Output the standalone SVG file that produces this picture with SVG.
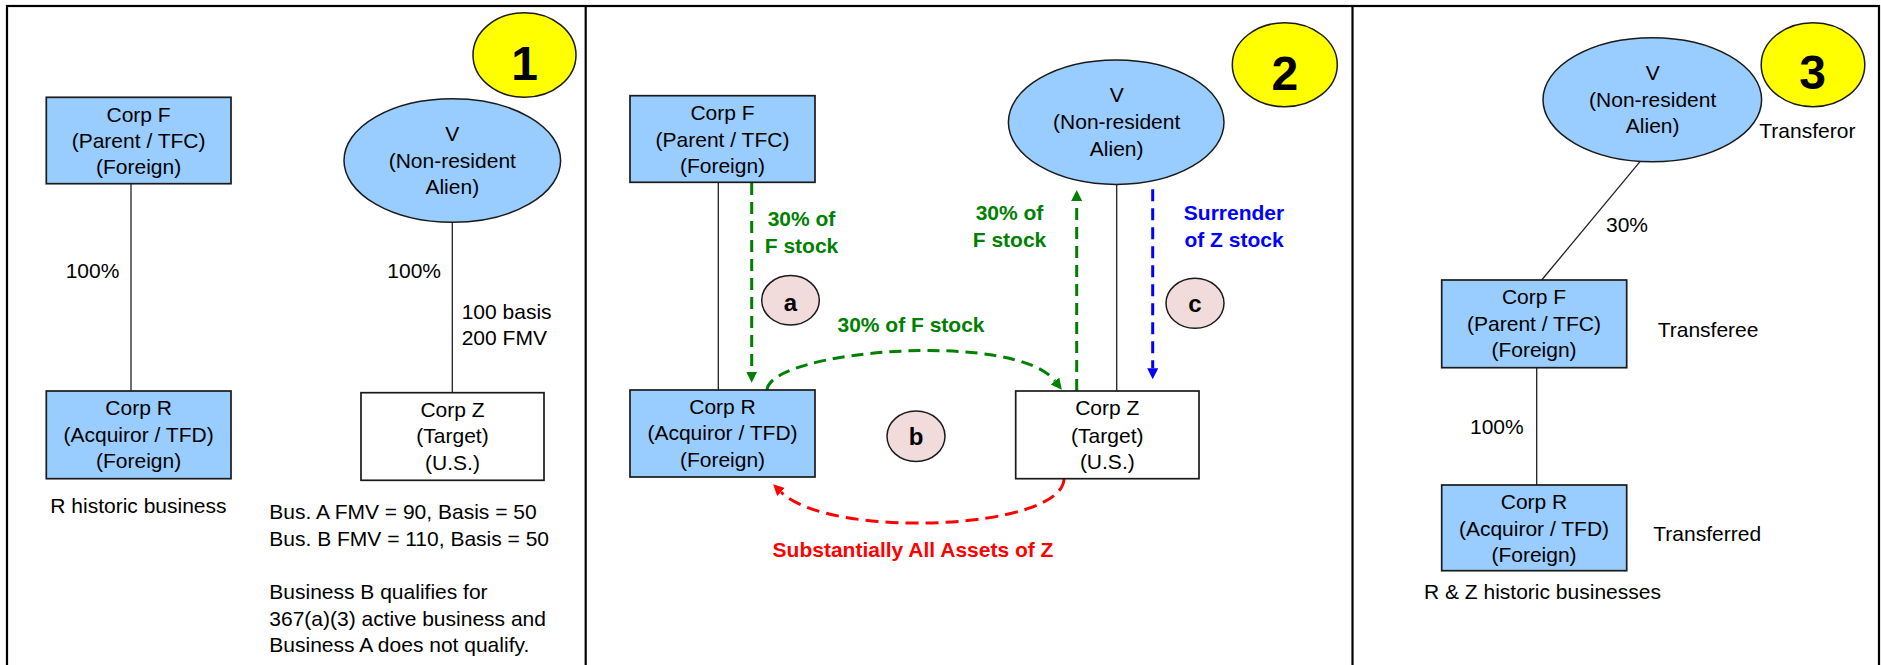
<svg xmlns="http://www.w3.org/2000/svg" width="1881" height="665" viewBox="0 0 1881 665">
<defs>
<style>
text{font-family:"Liberation Sans",Arial,sans-serif;font-size:21px;fill:#000}
.c{text-anchor:middle}
.box{fill:#99CCFF;stroke:#1a1a1a;stroke-width:1.7}
.wbox{fill:#fff;stroke:#1a1a1a;stroke-width:1.7}
.ell{fill:#99CCFF;stroke:#1a1a1a;stroke-width:1.5}
.yel{fill:#FFFF00;stroke:#1a1a1a;stroke-width:1.5}
.pink{fill:#F2DCDB;stroke:#1a1a1a;stroke-width:1.5}
.num{font-weight:bold;font-size:48px;text-anchor:middle}
.let{font-weight:bold;font-size:24px;text-anchor:middle}
.ln{stroke:#222;stroke-width:1.3;fill:none}
.dg{stroke:#008000;stroke-width:3;fill:none;stroke-dasharray:12 7}
.db{stroke:#0000FF;stroke-width:3;fill:none;stroke-dasharray:12 7}
.dr{stroke:#FF0000;stroke-width:3;fill:none;stroke-dasharray:13 7}
.g{fill:#008000;font-weight:bold}
.b{fill:#0000FF;font-weight:bold}
.r{fill:#FF0000;font-weight:bold}
</style>
<marker id="ag" markerUnits="userSpaceOnUse" markerWidth="12" markerHeight="12" refX="0" refY="5.5" orient="auto"><path d="M0,0 L11,5.5 L0,11 z" fill="#008000" stroke="none"/></marker>
<marker id="ab" markerUnits="userSpaceOnUse" markerWidth="12" markerHeight="12" refX="0" refY="5.5" orient="auto"><path d="M0,0 L11,5.5 L0,11 z" fill="#0000FF" stroke="none"/></marker>
<marker id="ar" markerUnits="userSpaceOnUse" markerWidth="12" markerHeight="12" refX="0" refY="5.5" orient="auto"><path d="M0,0 L11,5.5 L0,11 z" fill="#FF0000" stroke="none"/></marker>
</defs>
<rect width="1881" height="665" fill="#fff"/>
<g id="frame" fill="none" stroke="#000" stroke-width="2.2">
<rect x="7" y="6" width="1872" height="680"/>
<line x1="585.7" y1="6" x2="585.7" y2="665"/>
<line x1="1352.5" y1="6" x2="1352.5" y2="665"/>
</g>
<g id="connectors">
<line class="ln" x1="131" y1="183.7" x2="131" y2="391"/>
<line class="ln" x1="452.3" y1="222.3" x2="452.3" y2="392.7"/>
<line class="ln" x1="718.3" y1="182.3" x2="718.3" y2="390"/>
<line class="ln" x1="1116.7" y1="184.4" x2="1116.7" y2="391"/>
<line class="ln" x1="1640" y1="161.7" x2="1541.7" y2="280"/>
<line class="ln" x1="1536.7" y1="367.7" x2="1536.7" y2="485"/>
<line class="dg" x1="751.7" y1="183" x2="751.7" y2="371.7" marker-end="url(#ag)"/>
<line class="dg" x1="1076.7" y1="391" x2="1076.7" y2="201" marker-end="url(#ag)"/>
<line class="db" x1="1152.7" y1="189.3" x2="1152.7" y2="368.3" marker-end="url(#ab)"/>
<path class="dg" d="M767,390 C770,350 1015,330 1055,381" marker-end="url(#ag)"/>
<path class="dr" d="M1064,479 C1062,530 830,540 781,492" marker-end="url(#ar)"/>
</g>
<g id="p1-badge"><ellipse class="yel" cx="524.5" cy="55" rx="51.5" ry="42.3"/><text class="num" x="524.5" y="80">1</text></g>
<g id="p1-corpF"><rect class="box" x="46.3" y="97.3" width="184.7" height="86.4"/><text class="c" x="138.6" y="121.7">Corp F</text><text class="c" x="138.6" y="147.7">(Parent / TFC)</text><text class="c" x="138.6" y="174">(Foreign)</text></g>
<g id="p1-corpR"><rect class="box" x="46.3" y="391" width="184.7" height="87.7"/><text class="c" x="138.6" y="415">Corp R</text><text class="c" x="138.6" y="441.7">(Acquiror / TFD)</text><text class="c" x="138.6" y="467.7">(Foreign)</text></g>
<g id="p1-V"><ellipse class="ell" cx="452.3" cy="160.5" rx="108.3" ry="61.8"/><text class="c" x="452.3" y="140.7">V</text><text class="c" x="452.3" y="167.7">(Non-resident</text><text class="c" x="452.3" y="194">Alien)</text></g>
<g id="p1-corpZ"><rect class="wbox" x="361" y="392.7" width="183" height="87.6"/><text class="c" x="452.5" y="417.3">Corp Z</text><text class="c" x="452.5" y="443.3">(Target)</text><text class="c" x="452.5" y="470">(U.S.)</text></g>
<g id="p1-labels">
<text x="65.7" y="277.7">100%</text>
<text x="387.3" y="277.7">100%</text>
<text x="461.7" y="319">100 basis</text>
<text x="461.7" y="345">200 FMV</text>
<text x="50.3" y="513.3">R historic business</text>
<text x="269.3" y="519">Bus. A FMV = 90, Basis = 50</text>
<text x="269.3" y="545.7">Bus. B FMV = 110, Basis = 50</text>
<text x="269.3" y="598.7">Business B qualifies for</text>
<text x="269.3" y="625.7">367(a)(3) active business and</text>
<text x="269.3" y="652.3">Business A does not qualify.</text>
</g>
<g id="p2-badge"><ellipse class="yel" cx="1284.8" cy="64.7" rx="52.5" ry="42"/><text class="num" x="1284.8" y="90">2</text></g>
<g id="p2-corpF"><rect class="box" x="630" y="95.7" width="185" height="86.6"/><text class="c" x="722.5" y="120">Corp F</text><text class="c" x="722.5" y="146.7">(Parent / TFC)</text><text class="c" x="722.5" y="173.3">(Foreign)</text></g>
<g id="p2-corpR"><rect class="box" x="630" y="390" width="185" height="87"/><text class="c" x="722.5" y="414">Corp R</text><text class="c" x="722.5" y="440">(Acquiror / TFD)</text><text class="c" x="722.5" y="466.7">(Foreign)</text></g>
<g id="p2-V"><ellipse class="ell" cx="1116.2" cy="122.2" rx="107.8" ry="62.2"/><text class="c" x="1116.7" y="101.7">V</text><text class="c" x="1116.7" y="129">(Non-resident</text><text class="c" x="1116.7" y="155.7">Alien)</text></g>
<g id="p2-corpZ"><rect class="wbox" x="1015.7" y="391" width="183.3" height="87.7"/><text class="c" x="1107.3" y="415">Corp Z</text><text class="c" x="1107.3" y="442.7">(Target)</text><text class="c" x="1107.3" y="469.3">(U.S.)</text></g>
<g id="p2-step-a"><ellipse class="pink" cx="790.5" cy="300.3" rx="28.8" ry="24.7"/><text class="let" x="790.5" y="311">a</text></g>
<g id="p2-step-b"><ellipse class="pink" cx="916" cy="436.3" rx="29" ry="25.3"/><text class="let" x="916" y="445">b</text></g>
<g id="p2-step-c"><ellipse class="pink" cx="1195" cy="303.3" rx="29" ry="25"/><text class="let" x="1195" y="312">c</text></g>
<g id="p2-labels">
<text class="g c" x="801.5" y="226">30% of</text>
<text class="g c" x="801.5" y="252.7">F stock</text>
<text class="g c" x="1009.5" y="220">30% of</text>
<text class="g c" x="1009.5" y="246.7">F stock</text>
<text class="g c" x="911" y="331.7">30% of F stock</text>
<text class="b c" x="1234" y="220">Surrender</text>
<text class="b c" x="1234" y="246.7">of Z stock</text>
<text class="r c" x="913" y="556.7">Substantially All Assets of Z</text>
</g>
<g id="p3-badge"><ellipse class="yel" cx="1813" cy="64.7" rx="51.8" ry="42"/><text class="num" x="1812.5" y="89.3">3</text></g>
<g id="p3-V"><ellipse class="ell" cx="1652.3" cy="99.7" rx="109.3" ry="62"/><text class="c" x="1652.7" y="80">V</text><text class="c" x="1652.7" y="106.7">(Non-resident</text><text class="c" x="1652.7" y="133.3">Alien)</text></g>
<g id="p3-corpF"><rect class="box" x="1441.7" y="280" width="185" height="87.7"/><text class="c" x="1534" y="304">Corp F</text><text class="c" x="1534" y="330.7">(Parent / TFC)</text><text class="c" x="1534" y="356.7">(Foreign)</text></g>
<g id="p3-corpR"><rect class="box" x="1441.7" y="485" width="185" height="85.7"/><text class="c" x="1534" y="509">Corp R</text><text class="c" x="1534" y="535.7">(Acquiror / TFD)</text><text class="c" x="1534" y="561.7">(Foreign)</text></g>
<g id="p3-labels">
<text x="1759.3" y="138.3">Transferor</text>
<text x="1606" y="232.3">30%</text>
<text x="1657.7" y="336.7">Transferee</text>
<text x="1470" y="434">100%</text>
<text x="1653.3" y="540.7">Transferred</text>
<text x="1424" y="599.3">R &amp; Z historic businesses</text>
</g>
</svg>
